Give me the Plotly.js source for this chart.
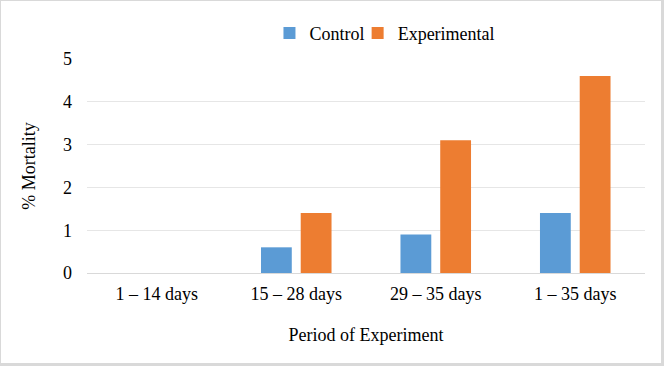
<!DOCTYPE html>
<html>
<head>
<meta charset="utf-8">
<script src="https://cdn.plot.ly/plotly-3.0.1.min.js"></script>
<style>
  html, body { margin: 0; padding: 0; background: #ffffff; }
  #wrap { position: relative; width: 664px; height: 367px; }
  #chart { width: 664px; height: 367px; }
  #frame { position: absolute; left: 0; top: 0; width: 660px; height: 362px;
           border-left: 1px solid #d9d9d9; border-top: 1px solid #d9d9d9;
           border-right: 3px solid #d9d9d9; border-bottom: 3px solid #d9d9d9;
           pointer-events: none; }
</style>
</head>
<body>
<div id="wrap">
  <div id="chart"></div>
  <div id="frame"></div>
</div>
<script>
const categories = ["1 \u2013 14 days", "15 \u2013 28 days", "29 \u2013 35 days", "1 \u2013 35 days"];
const controlValues = [0, 0.6, 0.9, 1.4];
const experimentalValues = [0, 1.4, 3.1, 4.6];
const yTicks = [0, 1, 2, 3, 4, 5];

const font = { family: "Times New Roman, Liberation Serif, DejaVu Serif, serif", size: 18, color: "#000000" };

const traces = [
  { type: "bar", name: "Control", x: categories, y: controlValues,
    marker: { color: "#5B9BD5" }, legend: "legend" },
  { type: "bar", name: "Experimental", x: categories, y: experimentalValues,
    marker: { color: "#ED7D31" }, legend: "legend2" }
];

const legendBase = { orientation: "h", xanchor: "left", y: 1.12, yanchor: "middle",
                     font: font, itemwidth: 30, bgcolor: "rgba(0,0,0,0)" };

const layout = {
  width: 664, height: 367,
  margin: { l: 87, r: 19, t: 59, b: 94, autoexpand: false },
  paper_bgcolor: "#ffffff", plot_bgcolor: "#ffffff",
  font: font,
  barmode: "group",
  bargap: 0.43,
  bargroupgap: 0.225,
  showlegend: true,
  legend: Object.assign({}, legendBase, { x: 0.327 }),
  legend2: Object.assign({}, legendBase, { x: 0.485 }),
  xaxis: {
    type: "category",
    showgrid: false,
    showline: true, linecolor: "#d9d9d9", linewidth: 1,
    ticks: "outside", ticklen: 4, tickcolor: "rgba(0,0,0,0)",
    tickfont: font,
    title: { text: "Period of Experiment", font: font, standoff: 25 }
  },
  yaxis: {
    range: [0, 5],
    tickvals: yTicks,
    ticktext: yTicks.map(String),
    showgrid: true, gridcolor: "#e6e6e6", gridwidth: 1,
    zeroline: false,
    showline: false,
    ticks: "", ticklabelstandoff: 14,
    tickfont: font,
    title: { text: "% Mortality", font: font, standoff: 22 }
  }
};

Plotly.newPlot("chart", traces, layout, { displayModeBar: false, staticPlot: true });
</script>
</body>
</html>
